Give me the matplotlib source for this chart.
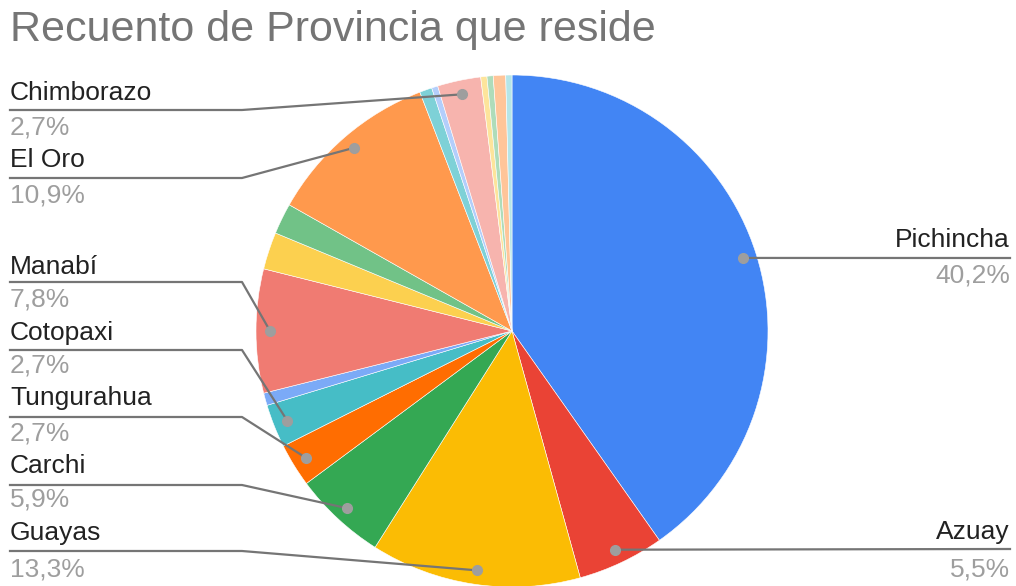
import numpy as np
import matplotlib.pyplot as plt

plt.rcParams['font.family'] = ['Liberation Sans', 'DejaVu Sans']

# counts per province (n = 256), clockwise from the top
provinces = ['Pichincha', 'Azuay', 'Guayas', 'Carchi', 'Tungurahua', 'Cotopaxi', '',
             'Manabí', '', '', 'El Oro', '', '', 'Chimborazo', '', '', '', '']
counts = [103, 14, 34, 15, 7, 7, 2, 20, 6, 5, 28, 2, 1, 7, 1, 1, 2, 1]
colors = ['#4285F4', '#EA4335', '#FBBC04', '#34A853', '#FF6D01', '#46BDC6', '#7BAAF7',
          '#F07B72', '#FCD04F', '#71C287', '#FF994D', '#7ED1D7', '#B3CEFB', '#F7B4AE',
          '#FDE49B', '#AEDCBA', '#FFC599', '#B5E5E8']

# label layout (pixel rows: name, line, percent) and side
layout = {
    'Chimborazo': ('L', 93, 110, 128),
    'El Oro': ('L', 160, 178, 196),
    'Manabí': ('L', 267, 282, 299),
    'Cotopaxi': ('L', 333, 350, 366),
    'Tungurahua': ('L', 398, 417, 434),
    'Carchi': ('L', 466, 485, 500),
    'Guayas': ('L', 533, 551, 570),
    'Pichincha': ('R', 240, 258, 276),
    'Azuay': ('R', 532, 549, 570),
}

W, H = 1016, 586
fig = plt.figure(figsize=(W / 100, H / 100), dpi=100)
ax = fig.add_axes([0, 0, 1, 1])
ax.set_aspect('equal')

cx, cy, r = 512, H - 331, 256
wedges, _ = ax.pie(counts, colors=colors, startangle=90, counterclock=False,
                   center=(cx, cy), radius=r, frame=True,
                   wedgeprops=dict(linewidth=0.4, edgecolor='white'))
ax.set_xlim(0, W)
ax.set_ylim(0, H)
ax.axis('off')

total = sum(counts)
for w, name, c in zip(wedges, provinces, counts):
    if name not in layout:
        continue
    side, yn, yl, yp = layout[name]
    mid = np.deg2rad((w.theta1 + w.theta2) / 2)
    dx, dy = cx + 0.945 * r * np.cos(mid), cy + 0.945 * r * np.sin(mid)
    pct = f"{c / total * 100:.1f}".replace('.', ',') + '%'
    if side == 'L':
        ax.plot([10, 242, dx], [H - yl, H - yl, dy], color='#757575', lw=1.6, zorder=3)
        ax.text(10, H - yn, name, ha='left', va='center', fontsize=19, color='#222222')
        ax.text(10, H - yp, pct, ha='left', va='center', fontsize=19, color='#9e9e9e')
    else:
        ax.plot([dx, 1010], [dy, H - yl], color='#757575', lw=1.6, zorder=3)
        ax.text(1010, H - yn, name, ha='right', va='center', fontsize=19, color='#222222')
        ax.text(1010, H - yp, pct, ha='right', va='center', fontsize=19, color='#9e9e9e')
    ax.plot(dx, dy, 'o', color='#9e9e9e', ms=7, zorder=4)

fig.text(10 / W, 1 - 30 / H, 'Recuento de Provincia que reside', ha='left', va='center',
         fontsize=31, color='#757575')

fig.savefig('out.png', dpi=100)
